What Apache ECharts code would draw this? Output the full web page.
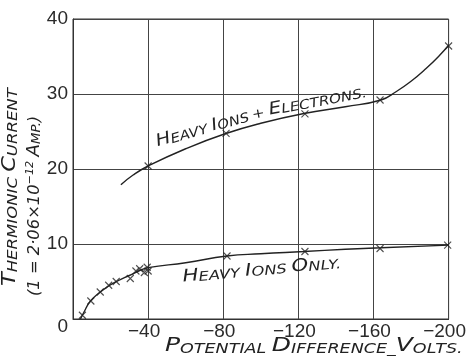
<!DOCTYPE html>
<html><head><meta charset="utf-8">
<script src="https://cdn.jsdelivr.net/npm/echarts@6/dist/echarts.min.js"></script>
<style>html,body{margin:0;padding:0;background:#fff}#c{width:469px;height:359px}</style>
</head><body><div id="c"></div><script>
// ---- data (potential difference in volts, current in 2.06e-12 A units) ----
const upperCurve = [[-25.5,17.9],[-32,19.2],[-40,20.4],[-60,22.7],[-81,24.7],[-100,26.1],[-123,27.4],[-145,28.3],[-164,29.2],[-172,30.3],[-180,31.7],[-188,33.4],[-195,35.1],[-200,36.5]];
const upperMarks = [[-40,20.4],[-81.5,24.75],[-123.5,27.35],[-163.5,29.2],[-200,36.4]];
const lowerCurve = [[-4,0],[-6,1.0],[-9,2.3],[-14,3.5],[-19,4.4],[-24,5.1],[-30,5.8],[-35,6.4],[-40,6.85],[-60,7.5],[-82,8.4],[-100,8.7],[-123,9.0],[-145,9.3],[-164,9.5],[-200,9.85]];
const lowerMarks = [[-5,0.5],[-9.5,2.4],[-14.5,3.6],[-19,4.5],[-23,5.0],[-30.5,5.4],[-33.5,6.4],[-35.5,6.7],[-38,6.2],[-39.5,6.9],[-40,6.4],[-82,8.4],[-123.5,9.0],[-163.5,9.4],[-199.5,9.85]];
const xTickLabels = {'-40':'−40','-80':'−80','-120':'−120','-160':'−160','-200':'−200','0':''};
const yTickLabels = {'0':'0','10':'10','20':'20','30':'30','40':'40'};
const labelUpper1 = 'HEAVY IONS';
const labelUpper2 = '+ ELECTRONS.';
const labelLower = 'HEAVY IONS ONLY.';
const yTitle1 = 'THERMIONIC CURRENT';
const xTitle = 'POTENTIAL DIFFERENCE_VOLTS.';

const INK = '#222';
const LETTER_FONT = "'DejaVu Sans', sans-serif";
const NUM_FONT = "'Liberation Sans', Arial, sans-serif";

function smallCaps(str) {
  // first letter of each word larger, rest small capitals
  return str.split(' ').map(w => {
    if (/^[A-Z]/.test(w)) return '{b|' + w[0] + '}' + (w.length > 1 ? '{s|' + w.slice(1) + '}' : '');
    return '{s|' + w + '}';
  }).join('{s| }');
}
function richSet(big, small) {
  return {
    b: {fontSize: big, fontFamily: LETTER_FONT, fontStyle: 'italic', fill: INK, color: INK, verticalAlign: 'bottom'},
    s: {fontSize: small, fontFamily: LETTER_FONT, fontStyle: 'italic', fill: INK, color: INK, verticalAlign: 'bottom'}
  };
}

const chart = echarts.init(document.getElementById('c'), null, {renderer: 'canvas'});
chart.setOption({
  animation: false,
  backgroundColor: '#fff',
  grid: {left: 73, right: 16, top: 19, bottom: 40, show: true, borderColor: '#333', borderWidth: 1},
  xAxis: {
    type: 'value', inverse: true, min: -200, max: 0, interval: 40,
    axisLine: {show: true, lineStyle: {color: '#333', width: 1}},
    axisTick: {show: false},
    splitLine: {show: true, lineStyle: {color: '#444', width: 1}},
    axisLabel: {margin: 3, fontSize: 19, fontFamily: NUM_FONT, color: '#2a2a2a', padding: [0, 8, 0, 0],
      formatter: v => xTickLabels[String(v)] ?? ''}
  },
  yAxis: {
    type: 'value', min: 0, max: 40, interval: 10,
    axisLine: {show: true, lineStyle: {color: '#333', width: 1}},
    axisTick: {show: false},
    splitLine: {show: true, lineStyle: {color: '#444', width: 1}},
    axisLabel: {margin: 5, fontSize: 19, fontFamily: NUM_FONT, color: '#2a2a2a',
      formatter: v => v === 0 ? '{z|' + yTickLabels['0'] + '}' : (yTickLabels[String(v)] ?? ''),
      rich: {z: {fontSize: 19, fontFamily: NUM_FONT, color: '#2a2a2a', padding: [16, 0, 0, 0]}}}
  },
  series: [
    {type: 'line', data: upperCurve, smooth: 0.5, showSymbol: false, lineStyle: {color: INK, width: 1.4}},
    {type: 'line', data: lowerCurve, smooth: 0.5, showSymbol: false, lineStyle: {color: INK, width: 1.4}},
    {type: 'scatter', data: upperMarks, symbol: 'path://M0,0L10,10M10,0L0,10', symbolSize: 7,
      itemStyle: {color: 'rgba(0,0,0,0)', borderColor: INK, borderWidth: 1.1}},
    {type: 'scatter', data: lowerMarks, symbol: 'path://M0,0L10,10M10,0L0,10', symbolSize: 7,
      itemStyle: {color: 'rgba(0,0,0,0)', borderColor: INK, borderWidth: 1.1}}
  ]
});

const px = p => chart.convertToPixel({gridIndex: 0}, p);
const deg = d => d * Math.PI / 180;
const aU1 = px([-45.6, 22.5]);
const aU2 = px([-96, 26.3]);
const aL = px([-58.8, 4.47]);
function txt(x, y, rot, sx, text, rich) {
  return {type: 'text', x: x, y: y, rotation: rot, scaleX: sx, scaleY: 1, silent: true,
    style: {text: text, rich: rich, fill: INK, align: 'left', verticalAlign: 'bottom'}};
}
chart.setOption({
  graphic: [
    txt(aU1[0], aU1[1], deg(16), 1.15, smallCaps(labelUpper1), richSet(17, 13)),
    txt(aU2[0], aU2[1], deg(10.8), 1.17, '{s|+ }' + smallCaps(labelUpper2.slice(2)), richSet(17, 13)),
    txt(aL[0], aL[1], deg(5.2), 1.25, smallCaps(labelLower), richSet(17, 13)),
    txt(165, 356, 0, 1.25, smallCaps(xTitle.split('_')[0]) + '{s|_}' + smallCaps(xTitle.split('_')[1]), richSet(20, 14)),
    txt(20, 286, deg(90), 1.18, smallCaps(yTitle1), richSet(19, 14)),
    txt(43, 296, deg(90), 1.02,
      '{d|(1 = 2·06×10}{sup|−12}{s| }{b|A}{s|MP.}{d|)}',
      Object.assign(richSet(18, 13), {
        d: {fontSize: 16, fontFamily: LETTER_FONT, fontStyle: 'italic', fill: INK, verticalAlign: 'bottom'},
        sup: {fontSize: 11, fontFamily: LETTER_FONT, fontStyle: 'italic', fill: INK, verticalAlign: 'top'}
      }))
  ]
});
</script></body></html>
